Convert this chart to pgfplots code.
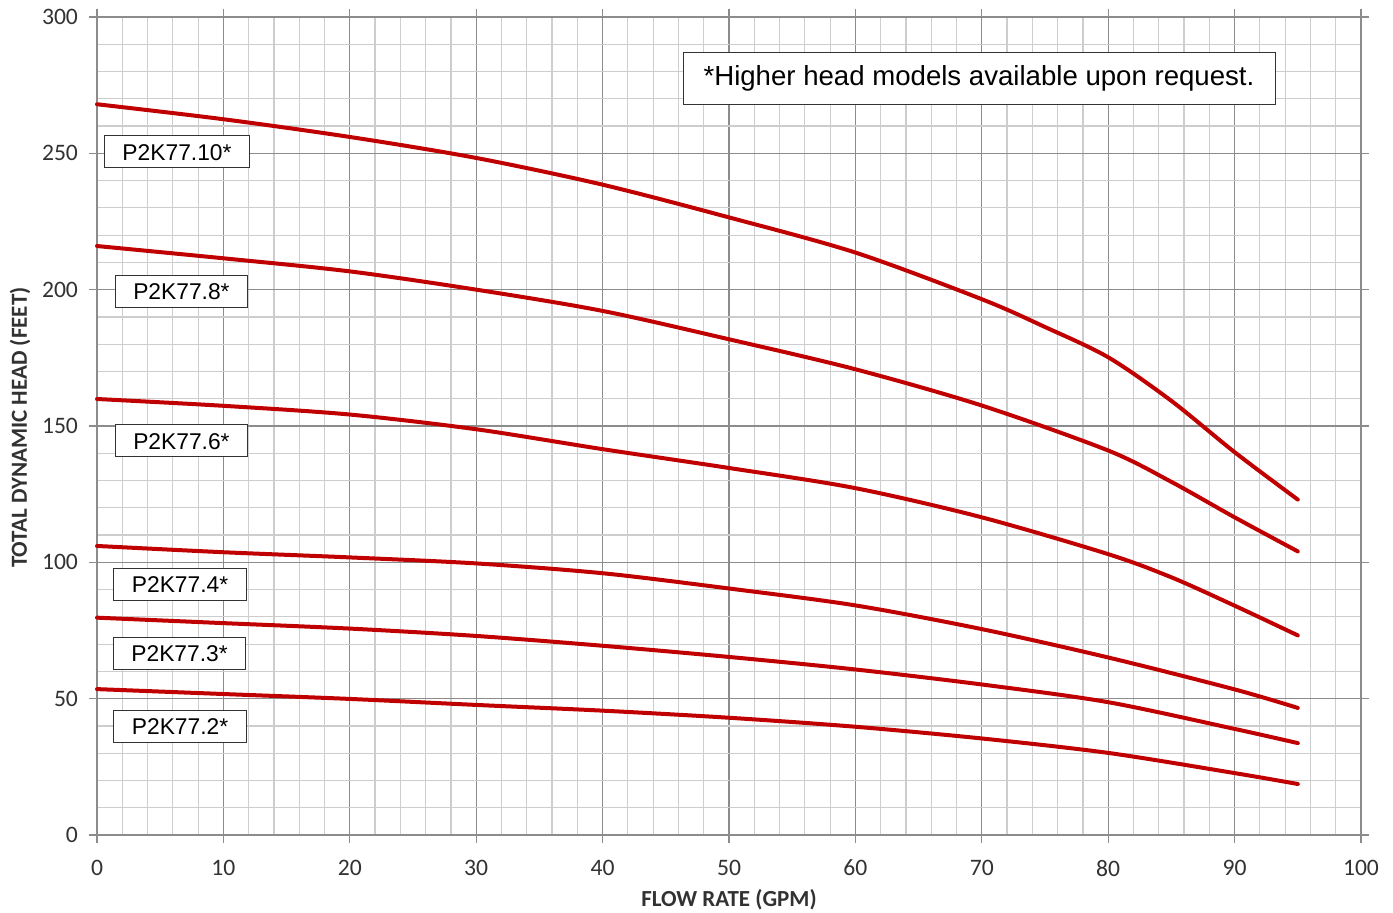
\documentclass[border=0pt]{standalone}
\usepackage{pgfplots}
\pgfplotsset{compat=1.18}
\usepackage{fontspec}
\setmainfont{Carlito}
\newfontfamily\arialfont{Liberation Sans}

\definecolor{curve}{RGB}{192,0,0}
\definecolor{majgrid}{RGB}{140,140,140}
\definecolor{mingrid}{RGB}{205,205,205}
\definecolor{ticktext}{RGB}{50,50,50}

\tikzset{box/.style={draw=ticktext, line width=0.5pt, fill=white, font=\arialfont\fontsize{11.4}{13}\selectfont,
  inner xsep=9pt, inner ysep=0pt, minimum height=16pt, text height=8.2pt, text depth=0pt},
  pump/.style={curve, line width=2pt, line cap=round, smooth, mark=none}}

\begin{document}
\begin{tikzpicture}
\begin{axis}[
at={(0,0)}, anchor=south west,
scale only axis,
width=632pt, height=409pt,
xmin=0, xmax=100, ymin=0, ymax=300,
xtick distance=10, ytick distance=50,
minor x tick num=4, minor y tick num=4,
grid=both,
major grid style={majgrid, line width=0.6pt},
minor grid style={mingrid, line width=0.6pt},
axis line style={majgrid, line width=0.6pt},
tick align=outside,
major tick length=4pt, minor tick length=0pt,
tick style={majgrid, line width=0.6pt},
/pgf/number format/assume math mode=true,
ticklabel style={font=\fontsize{11.8}{13}\selectfont, text=ticktext},
xticklabel style={yshift=-5pt},
yticklabel style={xshift=-2pt},
xlabel={\bfseries FLOW RATE (GPM)},
ylabel={\bfseries TOTAL DYNAMIC HEAD (FEET)},
label style={font=\fontsize{11.5}{13}\selectfont, text=ticktext},
xlabel style={at={(axis description cs:0.5,-0.0795)}, anchor=center},
ylabel style={at={(axis description cs:-0.0609,0.498)}, anchor=center},
clip=false,
]

% P2K77.10
\addplot[pump] coordinates {
(0,268) (10,262.5) (20,256) (30,248.3) (40,238.5) (50,226.5) (60,213.6)
(70,196.5) (75,186.3) (80,175.2) (85,159.2) (90,140.4) (95,123)
};
% P2K77.8
\addplot[pump] coordinates {
(0,216) (10,211.5) (20,206.7) (30,200) (40,192.2) (50,181.8) (60,170.8)
(70,157.5) (80,141) (85,129.5) (90,116.5) (95,104)
};
% P2K77.6
\addplot[pump] coordinates {
(0,159.9) (10,157.4) (20,154.2) (30,148.8) (40,141.5) (50,134.6) (60,127.2)
(70,116.5) (80,103) (85,94.5) (90,84.1) (95,73.2)
};
% P2K77.4
\addplot[pump] coordinates {
(0,106) (10,103.7) (20,101.8) (30,99.6) (40,96) (50,90.4) (60,84.2)
(70,75.5) (80,65.1) (90,53.4) (95,46.6)
};
% P2K77.3
\addplot[pump] coordinates {
(0,79.7) (10,77.7) (20,75.7) (30,73) (40,69.4) (50,65.3) (60,60.7)
(70,55.2) (80,48.7) (90,38.9) (95,33.7)
};
% P2K77.2
\addplot[pump] coordinates {
(0,53.5) (10,51.7) (20,49.9) (30,47.7) (40,45.6) (50,43) (60,39.7)
(70,35.4) (80,30.1) (90,22.7) (95,18.7)
};

\node[box] at (axis cs:6.33,250.5) {P2K77.10*};
\node[box] at (axis cs:6.68,199.3) {P2K77.8*};
\node[box] at (axis cs:6.68,144.5) {P2K77.6*};
\node[box] at (axis cs:6.57,92.0) {P2K77.4*};
\node[box] at (axis cs:6.53,66.6) {P2K77.3*};
\node[box] at (axis cs:6.57,39.8) {P2K77.2*};

\node[draw=black!80, line width=0.5pt, fill=white, minimum width=296pt, minimum height=26pt,
  inner sep=0pt, font=\arialfont\fontsize{13.8}{16}\selectfont]
  at (axis cs:69.78,277.6) {*Higher head models available upon request.};
\end{axis}
\pgfresetboundingbox
\path[use as bounding box] (-48.5pt,-39pt) rectangle (648pt,417.5pt);
\end{tikzpicture}
\end{document}
